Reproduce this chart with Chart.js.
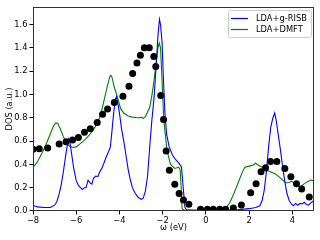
<!DOCTYPE html>
<html>
<head>
<meta charset="utf-8">
<script src="https://cdn.jsdelivr.net/npm/chart.js@4.4.0/dist/chart.umd.min.js"></script>
<style>
  html, body { margin: 0; padding: 0; background: #fff; }
</style>
</head>
<body>
<canvas id="dos" width="320" height="240"></canvas>
<script>
//! Data

const energyBlue = [-8.0, -7.8, -7.5, -7.2, -7.0, -6.9, -6.8, -6.7, -6.6, -6.5, -6.4, -6.35, -6.3, -6.22, -6.12, -6.0, -5.9, -5.8, -5.72, -5.62, -5.55, -5.45, -5.35, -5.28, -5.2, -5.1, -5.0, -4.9, -4.8, -4.7, -4.6, -4.5, -4.42, -4.35, -4.28, -4.2, -4.14, -4.08, -4.0, -3.9, -3.8, -3.7, -3.6, -3.5, -3.4, -3.3, -3.15, -3.0, -2.9, -2.8, -2.7, -2.6, -2.5, -2.4, -2.3, -2.22, -2.15, -2.1, -2.03, -1.97, -1.9, -1.82, -1.7, -1.55, -1.4, -1.25, -1.13, -1.05, -0.97, -0.9, -0.5, 0.0, 0.5, 1.0, 1.5, 2.0, 2.3, 2.5, 2.6, 2.7, 2.8, 2.9, 3.0, 3.1, 3.18, 3.25, 3.35, 3.45, 3.55, 3.65, 3.75, 3.85, 3.95, 4.05, 4.15, 4.25, 4.35, 4.45, 4.55, 4.65, 4.75, 4.85, 5.0];
const dosBlue = [0.05, 0.035, 0.03, 0.03, 0.05, 0.08, 0.14, 0.22, 0.33, 0.46, 0.58, 0.62, 0.6, 0.5, 0.37, 0.26, 0.22, 0.2, 0.185, 0.2, 0.2, 0.265, 0.24, 0.23, 0.28, 0.3, 0.295, 0.34, 0.37, 0.42, 0.47, 0.51, 0.55, 0.68, 0.82, 0.95, 0.98, 0.93, 0.84, 0.7, 0.6, 0.48, 0.36, 0.27, 0.2, 0.16, 0.12, 0.1, 0.11, 0.17, 0.3, 0.55, 0.78, 0.97, 1.25, 1.5, 1.645, 1.6, 1.45, 1.15, 0.85, 0.66, 0.55, 0.48, 0.44, 0.41, 0.376, 0.2, 0.03, 0.01, 0.005, 0.005, 0.005, 0.008, 0.012, 0.02, 0.03, 0.045, 0.09, 0.18, 0.34, 0.55, 0.72, 0.8, 0.84, 0.78, 0.65, 0.52, 0.38, 0.25, 0.15, 0.09, 0.06, 0.045, 0.065, 0.05, 0.065, 0.06, 0.075, 0.055, 0.05, 0.07, 0.09];

const energyGreen = [-8.0, -7.8, -7.6, -7.4, -7.2, -7.05, -6.95, -6.85, -6.75, -6.6, -6.45, -6.3, -6.15, -6.0, -5.8, -5.6, -5.4, -5.2, -5.0, -4.85, -4.7, -4.55, -4.45, -4.4, -4.35, -4.25, -4.1, -3.95, -3.8, -3.6, -3.4, -3.2, -3.05, -3.0, -2.9, -2.8, -2.7, -2.6, -2.5, -2.4, -2.3, -2.22, -2.16, -2.1, -2.05, -1.95, -1.8, -1.64, -1.44, -1.26, -1.19, -1.14, -1.1, -1.0, 0.0, 0.8, 0.95, 1.1, 1.25, 1.4, 1.55, 1.7, 1.8, 2.0, 2.2, 2.3, 2.45, 2.6, 2.8, 3.0, 3.2, 3.4, 3.55, 3.7, 3.85, 3.95, 4.1, 4.25, 4.4, 4.55, 4.7, 4.85, 5.0];
const dosGreen = [0.375, 0.42, 0.49, 0.57, 0.66, 0.73, 0.755, 0.75, 0.71, 0.64, 0.58, 0.555, 0.545, 0.55, 0.58, 0.61, 0.65, 0.7, 0.76, 0.84, 0.96, 1.08, 1.15, 1.165, 1.15, 1.07, 0.98, 0.88, 0.84, 0.815, 0.805, 0.8, 0.8, 0.805, 0.795, 0.81, 0.85, 0.89, 0.99, 1.12, 1.28, 1.4, 1.44, 1.4, 1.2, 0.78, 0.52, 0.4, 0.365, 0.375, 0.35, 0.18, 0.02, 0.005, 0.005, 0.008, 0.03, 0.07, 0.13, 0.2, 0.27, 0.34, 0.375, 0.385, 0.395, 0.41, 0.39, 0.375, 0.35, 0.335, 0.32, 0.29, 0.265, 0.24, 0.245, 0.255, 0.24, 0.22, 0.21, 0.235, 0.25, 0.265, 0.26];

const energyExp = [-8.0, -7.71, -7.32, -6.79, -6.47, -6.17, -5.9, -5.62, -5.35, -5.03, -4.78, -4.55, -4.24, -3.84, -3.56, -3.39, -3.19, -3.03, -2.85, -2.62, -2.41, -2.32, -2.09, -1.96, -1.84, -1.69, -1.44, -1.24, -1.04, -0.79, -0.25, 0.07, 0.34, 0.64, 0.91, 1.27, 1.64, 2.07, 2.32, 2.55, 2.76, 2.99, 3.28, 3.65, 3.93, 4.19, 4.43, 4.78];
const dosExp = [0.53, 0.535, 0.54, 0.575, 0.595, 0.61, 0.63, 0.675, 0.705, 0.76, 0.83, 0.875, 0.93, 0.985, 1.07, 1.18, 1.27, 1.335, 1.4, 1.4, 1.325, 1.24, 0.99, 0.785, 0.515, 0.35, 0.23, 0.15, 0.095, 0.057, 0.015, 0.015, 0.015, 0.015, 0.015, 0.026, 0.051, 0.157, 0.234, 0.337, 0.371, 0.425, 0.425, 0.365, 0.294, 0.234, 0.188, 0.12];

const xTicks = [-8, -6, -4, -2, 0, 2, 4];
const yTicks = [0, 0.2, 0.4, 0.6, 0.8, 1.0, 1.2, 1.4, 1.6];
const seriesNames = ["LDA+g-RISB", "LDA+DMFT"];

//! Chart

const font = { family: "DejaVu Sans", size: 8.3, lineHeight: 1.2 };
const toPoints = (xs, ys) => xs.map((x, i) => ({ x: x, y: ys[i] }));

// frame + legend drawn inside the axes like matplotlib
const framePlugin = {
  id: "frame",
  afterDraw(chart) {
    const ctx = chart.ctx;
    const a = chart.chartArea;
    ctx.save();
    ctx.strokeStyle = "#333";
    ctx.lineWidth = 1;
    ctx.strokeRect(Math.round(a.left) + 0.5, Math.round(a.top) + 0.5,
      Math.round(a.right - a.left) - 1, Math.round(a.bottom - a.top) - 1);

    // legend box
    const bx = 228.5, by = 10.5, bw = 83, bh = 27;
    ctx.beginPath();
    ctx.roundRect(bx, by, bw, bh, 2);
    ctx.fillStyle = "rgba(255,255,255,0.8)";
    ctx.fill();
    ctx.strokeStyle = "#cccccc";
    ctx.stroke();

    const colors = [chart.data.datasets[1].borderColor, chart.data.datasets[2].borderColor];
    ctx.font = font.size + "px " + font.family;
    ctx.textBaseline = "middle";
    ctx.textAlign = "left";
    seriesNames.forEach((name, i) => {
      const y = 18.5 + i * 11;
      ctx.beginPath();
      ctx.moveTo(231, y);
      ctx.lineTo(248, y);
      ctx.strokeStyle = colors[i];
      ctx.lineWidth = 1.2;
      ctx.stroke();
      ctx.fillStyle = "#000";
      ctx.fillText(name, 256, y);
    });
    ctx.restore();
  },
};

new Chart(document.getElementById("dos"), {
  type: "scatter",
  data: {
    datasets: [
      {
        label: "exp",
        data: toPoints(energyExp, dosExp),
        backgroundColor: "#000",
        borderColor: "#000",
        pointRadius: 3.5,
        pointHoverRadius: 3.5,
        borderWidth: 0,
      },
      {
        label: seriesNames[0],
        data: toPoints(energyBlue, dosBlue),
        showLine: true,
        borderColor: "#0000ff",
        borderWidth: 1.1,
        pointRadius: 0,
        tension: 0,
      },
      {
        label: seriesNames[1],
        data: toPoints(energyGreen, dosGreen),
        showLine: true,
        borderColor: "#008000",
        borderWidth: 1.1,
        pointRadius: 0,
        tension: 0,
      },
    ],
  },
  options: {
    responsive: false,
    animation: false,
    devicePixelRatio: 1,
    layout: {
      padding: { top: 6, right: 6, left: 0, bottom: 0 },
    },
    plugins: {
      legend: { display: false },
      tooltip: { enabled: false },
    },
    scales: {
      x: {
        type: "linear",
        min: -8,
        max: 5,
        afterBuildTicks: (scale) => {
          scale.ticks = xTicks.map((v) => ({ value: v }));
        },
        afterFit: (scale) => {
          scale.height = 29;
        },
        grid: { drawOnChartArea: false, tickLength: 3.5, color: "#000" },
        border: { display: false },
        ticks: {
          font: font,
          color: "#000",
          padding: 1,
          maxRotation: 0,
          callback: (v) => (v < 0 ? "\u2212" + Math.abs(v) : String(v)),
        },
        title: {
          display: true,
          text: "ω (eV)",
          font: font,
          color: "#000",
          padding: { top: 0, bottom: 7 },
        },
      },
      y: {
        min: 0,
        max: 1.75,
        afterBuildTicks: (scale) => {
          scale.ticks = yTicks.map((v) => ({ value: v }));
        },
        afterFit: (scale) => {
          scale.width = 33;
        },
        grid: { drawOnChartArea: false, tickLength: 3.5, color: "#000" },
        border: { display: false },
        ticks: {
          font: font,
          color: "#000",
          padding: 2,
          callback: (v) => v.toFixed(1),
        },
        title: {
          display: true,
          text: "DOS (a.u.)",
          font: font,
          color: "#000",
          padding: { top: 5, bottom: 0 },
        },
      },
    },
  },
  plugins: [framePlugin],
});
</script>
</body>
</html>
